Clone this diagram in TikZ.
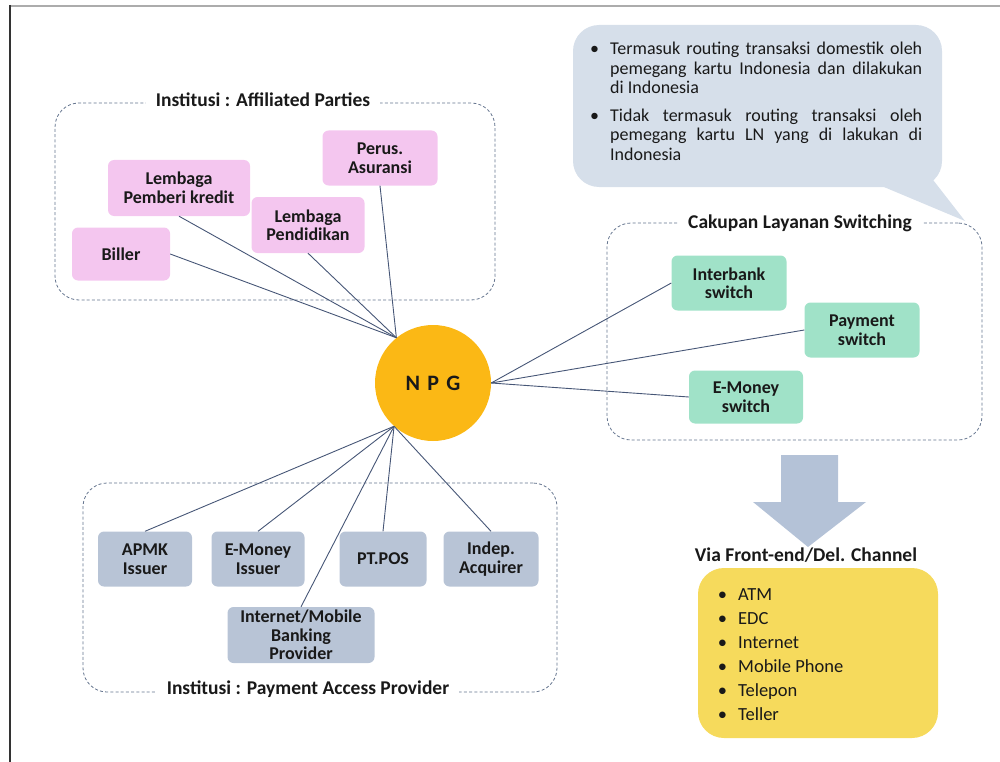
\documentclass[tikz,border=0pt]{standalone}
\usepackage{fontspec}
\setmainfont{Carlito}
\definecolor{pinkc}{RGB}{244,198,239}
\definecolor{greenc}{RGB}{160,226,200}
\definecolor{grayc}{RGB}{184,196,214}
\definecolor{npgc}{RGB}{251,184,21}
\definecolor{bubblec}{RGB}{214,223,234}
\definecolor{arrowc}{RGB}{180,194,215}
\definecolor{yellowc}{RGB}{246,218,92}
\definecolor{dashc}{RGB}{100,116,142}
\definecolor{connc}{RGB}{70,86,118}
\definecolor{txtc}{RGB}{25,25,25}
\newcommand{\bul}{\leavevmode\llap{•\hspace{11pt}}}
\begin{document}
\begin{tikzpicture}[x=1pt,y=-1pt,
  every node/.style={text=txtc},
  box/.style={rectangle, rounded corners=6pt, align=center, inner sep=1pt,
    font=\bfseries\fontsize{18}{18.5}\selectfont},
  pinkbox/.style={box, fill=pinkc},
  greenbox/.style={box, fill=greenc},
  graybox/.style={box, fill=grayc},
  group/.style={rectangle, rounded corners=24pt, draw=dashc, line width=0.8pt,
    dash pattern=on 3pt off 2.2pt},
  grouplabel/.style={fill=white, inner xsep=10pt, inner ysep=1pt,
    font=\bfseries\fontsize{19.5}{21}\selectfont},
  conn/.style={draw=connc, line width=0.9pt}
]
\useasboundingbox (0,0) rectangle (1000,762);
% frame
\draw[gray!65, line width=2.5pt] (9,6) -- (1000,6);
\draw[black!80, line width=2pt] (10,5) -- (10,762);

% group boxes
\node[group, minimum width=440pt, minimum height=197pt] (aff) at (275,201.5) {};
\node[grouplabel] (afflabel) at (263,100) {Institusi : Affiliated Parties};
\node[group, minimum width=474pt, minimum height=209pt] (pap) at (320,587.5) {};
\node[grouplabel] (paplabel) at (308,689) {Institusi : Payment Access Provider};
\node[group, minimum width=375pt, minimum height=217pt] (sw) at (794.5,331.5) {};
\node[grouplabel] (swlabel) at (800,223) {Cakupan Layanan Switching};

% callout
\node[rectangle, rounded corners=26pt, fill=bubblec, minimum width=369pt, minimum height=162pt] (note) at (757.5,106) {};
\coordinate (tailtip) at (965,221);
\fill[bubblec] (872,182) -- (tailtip) -- (930,176) -- cycle;
\node[anchor=north west, inner sep=0pt, text width=312pt, align=justify,
  font=\fontsize{18}{19.5}\selectfont] (notetext) at (610,42)
  {\bul Termasuk routing transaksi domestik oleh\linebreak
   pemegang kartu Indonesia dan dilakukan\linebreak di Indonesia\par\vspace{8pt}
   \bul Tidak termasuk routing transaksi oleh\linebreak
   pemegang kartu LN yang di lakukan di\linebreak Indonesia\par};

% NPG
\node[circle, fill=npgc, minimum size=116pt, inner sep=0pt,
  font=\bfseries\fontsize{22}{24}\selectfont] (npg) at (433,383) {N\,\,P\,\,G};

% affiliated parties
\node[pinkbox, minimum width=115pt, minimum height=55pt] (asuransi) at (380,158) {Perus.\\Asuransi};
\node[pinkbox, minimum width=142pt, minimum height=56pt] (kredit) at (179,188) {Lembaga\\Pemberi kredit};
\node[pinkbox, minimum width=113pt, minimum height=56pt] (pendidikan) at (308,225) {Lembaga\\Pendidikan};
\node[pinkbox, minimum width=98pt, minimum height=53pt] (biller) at (121,254) {Biller};

% switching
\node[greenbox, minimum width=115pt, minimum height=55pt] (interbank) at (729,283) {Interbank\\switch};
\node[greenbox, minimum width=115pt, minimum height=55pt] (payment) at (862,330) {Payment\\switch};
\node[greenbox, minimum width=114pt, minimum height=53pt] (emswitch) at (746,397) {E-Money\\switch};

% payment access providers
\node[graybox, minimum width=94pt, minimum height=55pt] (apmk) at (145,559) {APMK\\Issuer};
\node[graybox, minimum width=93pt, minimum height=55pt] (emissuer) at (258,559) {E-Money\\Issuer};
\node[graybox, minimum width=87pt, minimum height=55pt] (pos) at (383,559) {PT.POS};
\node[graybox, minimum width=95pt, minimum height=55pt] (indep) at (491,559) {Indep.\\Acquirer};
\node[graybox, minimum width=147pt, minimum height=56pt] (inet) at (301,635) {Internet/Mobile\\Banking\\Provider};

% connectors
\draw[conn] (biller.east) -- (npg.129);
\draw[conn] (kredit.south) -- (npg.129);
\draw[conn] (pendidikan.south) -- (npg.129);
\draw[conn] (asuransi.south) -- (npg.129);
\draw[conn] (interbank.west) -- (npg.east);
\draw[conn] (payment.west) -- (npg.east);
\draw[conn] (emswitch.west) -- (npg.east);
\draw[conn] (apmk.north) -- (npg.228);
\draw[conn] (emissuer.north) -- (npg.228);
\draw[conn] (inet.north) -- (npg.228);
\draw[conn] (pos.north) -- (npg.228);
\draw[conn] (indep.north) -- (npg.228);

% down arrow
\fill[arrowc] (781,455) -- (838,455) -- (838,502) -- (866,502) -- (808,547) -- (753,502) -- (781,502) -- cycle;

% channels
\node[font=\bfseries\fontsize{19.5}{21}\selectfont] (vialabel) at (806,555) {Via Front-end/Del. Channel};
\node[rectangle, rounded corners=26pt, fill=yellowc, minimum width=240pt, minimum height=170pt] (channels) at (818,653) {};
\node[anchor=north west, inner sep=0pt, align=left,
  font=\fontsize{18.5}{24}\selectfont] (chlist) at (738,588)
  {\bul ATM\\ \bul EDC\\ \bul Internet\\
   \bul Mobile Phone\\ \bul Telepon\\ \bul Teller};
\end{tikzpicture}
\end{document}
